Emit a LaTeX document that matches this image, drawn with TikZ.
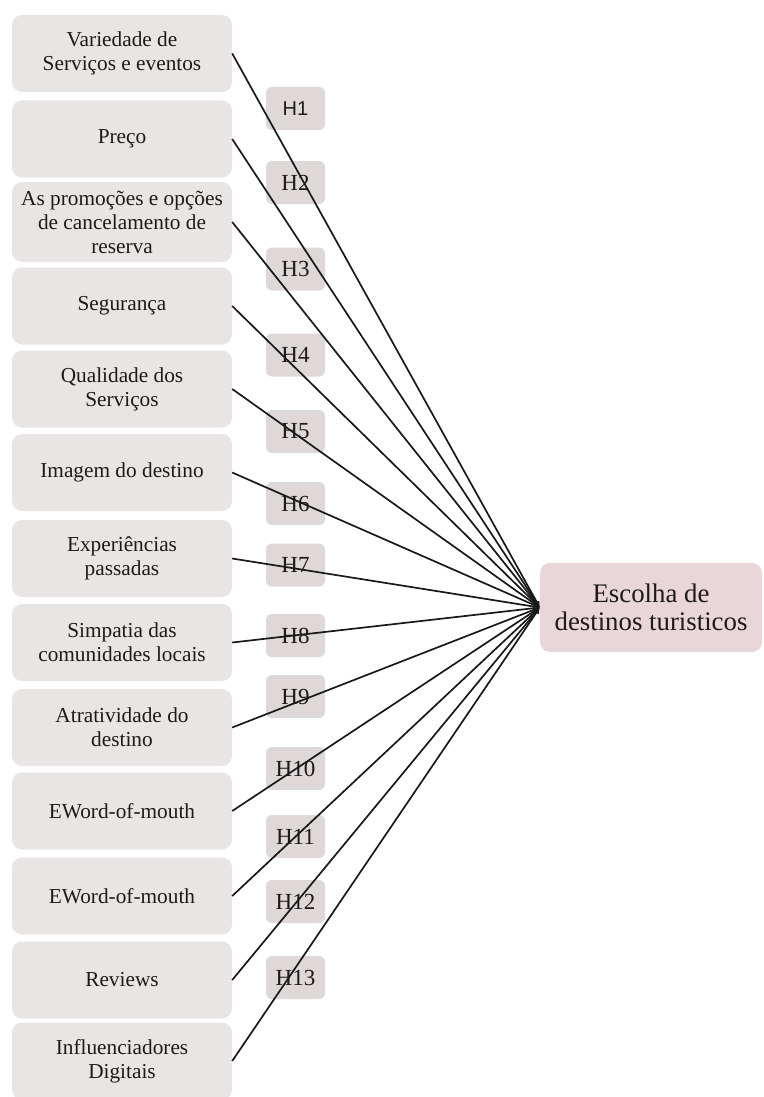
\documentclass[tikz,border=0pt]{standalone}
\usepackage{fontspec}
\setmainfont{Liberation Serif}
\newfontfamily\hsans{Liberation Sans}
\usetikzlibrary{arrows.meta}
\definecolor{boxfill}{RGB}{233,229,229}
\definecolor{hfill}{RGB}{222,216,216}
\definecolor{tfill}{RGB}{233,214,216}
\definecolor{txt}{RGB}{30,26,26}
\tikzset{
  srcbox/.style={draw=none, fill=boxfill, rounded corners=10pt, minimum width=220pt, minimum height=77pt, inner sep=0pt, align=center, text=txt, font=\fontsize{21.3}{24}\selectfont},
  hbox/.style={draw=none, fill=hfill, rounded corners=6pt, minimum width=59pt, minimum height=43pt, inner sep=0pt, text=txt, font=\fontsize{23}{26}\selectfont},
  tgtbox/.style={draw=none, fill=tfill, rounded corners=10pt, minimum width=222pt, minimum height=89pt, inner sep=0pt, align=center, text=txt, font=\fontsize{26.8}{28}\selectfont},
  conn/.style={draw=black!90, line width=1.7pt, -{Latex[length=6pt,width=6pt]}}
}
\begin{document}
\begin{tikzpicture}[x=1pt,y=-1pt]
\useasboundingbox (0,0) rectangle (763,1097);
% hypothesis labels
\node[hbox, font=\hsans\fontsize{20}{23}\selectfont] (h1) at (295.5,108.5) {H1};
\node[hbox] (h2) at (295.5,182.5) {H2};
\node[hbox] (h3) at (295.5,269) {H3};
\node[hbox] (h4) at (295.5,355) {H4};
\node[hbox] (h5) at (295.5,431.5) {H5};
\node[hbox] (h6) at (295.5,503.5) {H6};
\node[hbox] (h7) at (295.5,565) {H7};
\node[hbox] (h8) at (295.5,635.5) {H8};
\node[hbox] (h9) at (295.5,696.5) {H9};
\node[hbox] (h10) at (295.5,768.5) {H10};
\node[hbox] (h11) at (295.5,836.5) {H11};
\node[hbox] (h12) at (295.5,901.5) {H12};
\node[hbox] (h13) at (295.5,977.5) {H13};
% source boxes
\node[srcbox] (b1) at (122,53.5) {Variedade de\\Serviços e eventos};
\node[srcbox] (b2) at (122,139) {Preço};
\node[srcbox, minimum height=80pt] (b3) at (122,222) {As promoções e opções\\de cancelamento de\\reserva};
\node[srcbox] (b4) at (122,306) {Segurança};
\node[srcbox] (b5) at (122,389) {Qualidade dos\\Serviços};
\node[srcbox] (b6) at (122,472.5) {Imagem do destino};
\node[srcbox] (b7) at (122,558.5) {Experiências\\passadas};
\node[srcbox] (b8) at (122,642.5) {Simpatia das\\comunidades locais};
\node[srcbox] (b9) at (122,727.5) {Atratividade do\\destino};
\node[srcbox] (b10) at (122,811) {EWord-of-mouth};
\node[srcbox] (b11) at (122,896) {EWord-of-mouth};
\node[srcbox] (b12) at (122,980) {Reviews};
\node[srcbox] (b13) at (122,1061) {Influenciadores\\Digitais};
% target
\node[tgtbox] (t) at (651,607.5) {Escolha de\\destinos turisticos};
% connectors
\foreach \i in {1,...,13} {
  \draw[conn] (b\i.east) -- (t.west);
}
\end{tikzpicture}
\end{document}
